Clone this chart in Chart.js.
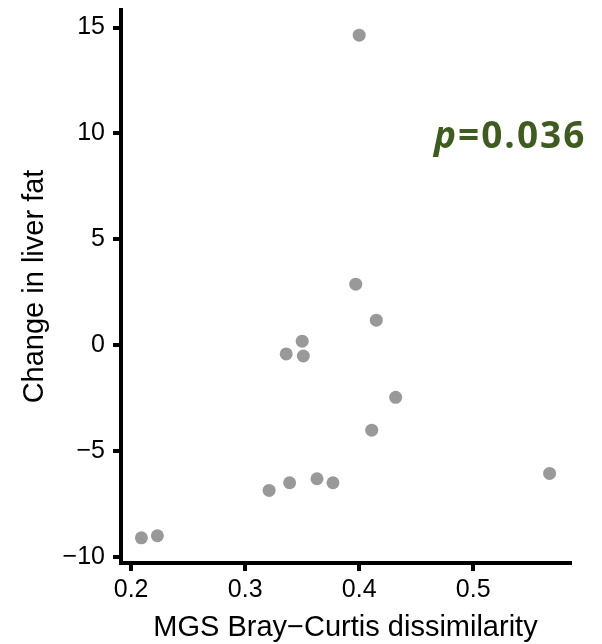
<!DOCTYPE html>
<html>
<head>
<meta charset="utf-8">
<script src="https://cdn.jsdelivr.net/npm/chart.js@4.4.1/dist/chart.umd.min.js"></script>
<style>
  html, body { margin: 0; padding: 0; background: #fff; }
  #wrap { width: 602px; height: 644px; }
</style>
</head>
<body>
<div id="wrap"><canvas id="scatter"></canvas></div>
<script>
// Bray-Curtis dissimilarity vs change in liver fat, one point per subject
const dissimilarity = [0.400, 0.397, 0.415, 0.350, 0.336, 0.351, 0.432, 0.411, 0.567, 0.321, 0.339, 0.363, 0.377, 0.209, 0.223];
const liverFatChange = [14.64, 2.89, 1.19, 0.20, -0.40, -0.50, -2.45, -4.00, -6.04, -6.84, -6.48, -6.29, -6.48, -9.08, -8.98];
const xTicks = [0.2, 0.3, 0.4, 0.5];
const yTicks = [-10, -5, 0, 5, 10, 15];
const pValue = '0.036';

// ggplot-style 5% expansion around the data range
function expandRange(values) {
    const lo = Math.min(...values), hi = Math.max(...values);
    const pad = (hi - lo) * 0.05;
    return [lo - pad, hi + pad];
}
const [xMin, xMax] = expandRange(dissimilarity);
const [yMin, yMax] = expandRange(liverFatChange);

const points = dissimilarity.map((x, i) => ({ x, y: liverFatChange[i] }));

Chart.defaults.font.family = '"Liberation Sans", Arial, sans-serif';
Chart.defaults.color = '#000';

const axisLine = { display: true, color: '#000', width: 4 };
const tickMarks = { drawOnChartArea: false, tickLength: 8, tickWidth: 4, tickColor: '#000', color: '#000', lineWidth: 4 };

const pValueLabel = {
    id: 'pValueLabel',
    afterDraw(chart) {
        const { ctx } = chart;
        const x = 434, y = 148;
        ctx.save();
        ctx.fillStyle = '#3d5c1e';
        ctx.textBaseline = 'alphabetic';
        ctx.letterSpacing = '2px';
        ctx.font = 'italic bold 37px "Open Sans"';
        ctx.fillText('p', x, y);
        const w = ctx.measureText('p').width;
        ctx.font = 'bold 37px "Open Sans"';
        ctx.fillText('=' + pValue, x + w, y);
        ctx.restore();
    },
};

new Chart(document.getElementById('scatter'), {
    type: 'scatter',
    data: {
        datasets: [{
            data: points,
            backgroundColor: '#999999',
            borderWidth: 0,
            pointRadius: 6.5,
            pointHoverRadius: 6.5,
        }],
    },
    options: {
        responsive: true,
        maintainAspectRatio: false,
        animation: false,
        events: [],
        layout: { padding: { top: 10, right: 32, left: 0, bottom: 0 } },
        plugins: { legend: { display: false }, tooltip: { enabled: false } },
        scales: {
            x: {
                type: 'linear',
                min: xMin,
                max: xMax,
                afterBuildTicks: s => { s.ticks = xTicks.map(value => ({ value })); },
                afterFit: s => { s.height = 81; s.paddingLeft = 0; s.paddingRight = 0; },
                border: axisLine,
                grid: tickMarks,
                ticks: { font: { size: 25 }, padding: 4, maxRotation: 0, autoSkip: false, callback: v => v.toFixed(1) },
                title: {
                    display: true,
                    text: 'MGS Bray\u2212Curtis dissimilarity',
                    font: { size: 29, lineHeight: 1.1 },
                    padding: { top: 0, bottom: 0 },
                },
            },
            y: {
                type: 'linear',
                min: yMin,
                max: yMax,
                afterBuildTicks: s => { s.ticks = yTicks.map(value => ({ value })); },
                afterFit: s => { s.width = 121; s.paddingTop = 0; s.paddingBottom = 0; },
                border: axisLine,
                grid: tickMarks,
                ticks: { font: { size: 25 }, padding: 8, autoSkip: false, callback: v => String(v).replace('-', '\u2212') },
                title: {
                    display: true,
                    text: 'Change in liver fat',
                    font: { size: 29, lineHeight: 1.2 },
                    padding: { top: 17.6, bottom: 0 },
                },
            },
        },
    },
    plugins: [pValueLabel],
});
</script>
</body>
</html>
